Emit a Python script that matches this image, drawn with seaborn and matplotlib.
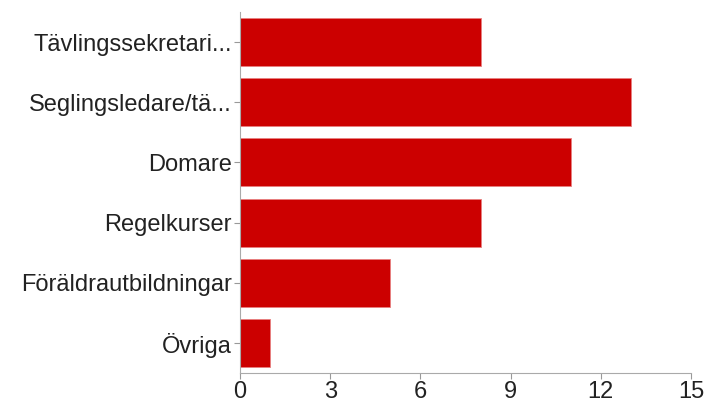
import matplotlib
matplotlib.use("Agg")
import matplotlib.pyplot as plt
import seaborn as sns
import pandas as pd

# Data
categories = ["Tävlingssekretari...", "Seglingsledare/tä...", "Domare",
              "Regelkurser", "Föräldrautbildningar", "Övriga"]
values = [8, 13, 11, 8, 5, 1]
xticks = [0, 3, 6, 9, 12, 15]

sns.set_style("white")
plt.rcParams['font.family'] = ['Liberation Sans', 'DejaVu Sans']

df = pd.DataFrame({"kategori": categories, "antal": values})

fig = plt.figure(figsize=(7.08, 4.07), dpi=100)
ax = fig.add_axes([0.339, 0.0835, 0.637, 0.887])

sns.barplot(data=df, x="antal", y="kategori", color="#cc0000",
            saturation=1, width=0.8, edgecolor="#e88080", linewidth=0.6, ax=ax)

ax.set_xlim(0, 15)
ax.set_xticks(xticks)
ax.set_xlabel("")
ax.set_ylabel("")
ax.tick_params(axis="both", labelsize=17, colors="#999999", labelcolor="#222222",
               length=4, width=0.8, direction="out", bottom=True, left=True, pad=2)
for s in ["top", "right"]:
    ax.spines[s].set_visible(False)
for s in ["left", "bottom"]:
    ax.spines[s].set_color("#aaaaaa")
    ax.spines[s].set_linewidth(0.8)

fig.savefig("out.png", dpi=100)
